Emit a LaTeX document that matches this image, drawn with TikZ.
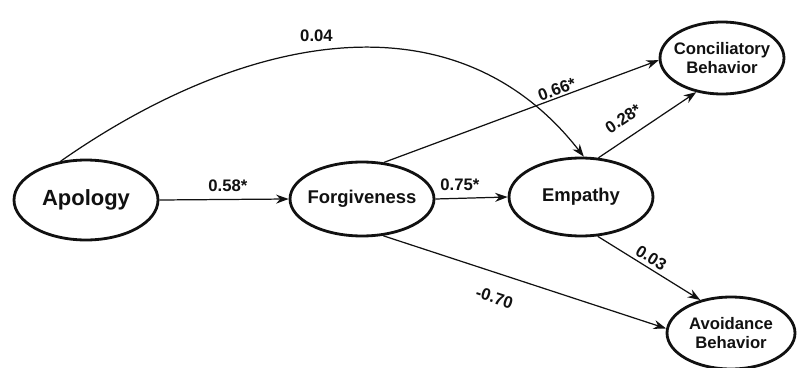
\documentclass[tikz,border=0pt]{standalone}
\usepackage{fontspec}
\setmainfont{Liberation Sans}
\usepackage{tikz}
\usetikzlibrary{arrows.meta,shapes.geometric}
\definecolor{cink}{HTML}{111111}
\tikzset{>={Stealth[length=2.5mm,width=1.8mm]}}

\begin{document}
\begin{tikzpicture}[x=0.02cm,y=-0.02cm,font=\bfseries,
  latent/.style={ellipse,draw=cink,line width=1.6pt,inner xsep=-6pt,inner ysep=0pt,align=center,text=cink},
  arc/.style={->,draw=cink,line width=0.7pt},
  coef/.style={font=\fontsize{9.5}{11}\selectfont\bfseries,text=cink,inner sep=1pt}]

\useasboundingbox (0,0) rectangle (797,368);

% ============ latent variables ============
\node[latent,minimum width=2.88cm,minimum height=1.6cm,font=\fontsize{12.5}{14}\selectfont\bfseries] (apology) at (86,200) {Apology};
\node[latent,minimum width=2.88cm,minimum height=1.48cm,font=\fontsize{10.5}{12}\selectfont\bfseries] (forgive) at (362,199) {Forgiveness};
\node[latent,minimum width=2.88cm,minimum height=1.56cm,font=\fontsize{10.5}{12}\selectfont\bfseries] (empathy) at (581,197) {Empathy};
\node[latent,minimum width=2.48cm,minimum height=1.44cm,font=\fontsize{9.5}{10.5}\selectfont\bfseries] (concil) at (722,58) {Conciliatory\\Behavior};
\node[latent,minimum width=2.56cm,minimum height=1.44cm,font=\fontsize{9.5}{10.5}\selectfont\bfseries] (avoid) at (731,333) {Avoidance\\Behavior};

% ============ paths ============
\draw[arc] (apology.east) -- node[coef,above=3pt,pos=0.53] (c58) {0.58*} (forgive.west);
\draw[arc] (forgive.east) -- node[coef,above=3pt,pos=0.34] (c75) {0.75*} (empathy.west);
\draw[arc] (apology.123) to[out=35,in=128,looseness=1.05] node[coef,above=4pt,pos=0.46] (c04) {0.04} (empathy.86);
\draw[arc] (forgive.59) -- node[coef,sloped,above,pos=0.64] (c66) {0.66*} (concil.182);
\draw[arc] (empathy.66) -- node[coef,sloped,above=6pt,pos=0.36] (c28) {0.28*} (concil.233);
\draw[arc] (forgive.-60) -- node[coef,sloped,below=9pt,pos=0.42] (c70) {-0.70} (avoid.176);
\draw[arc] (empathy.-67) -- node[coef,sloped,above=1pt,pos=0.47] (c03) {0.03} (avoid.133);

\end{tikzpicture}
\end{document}
